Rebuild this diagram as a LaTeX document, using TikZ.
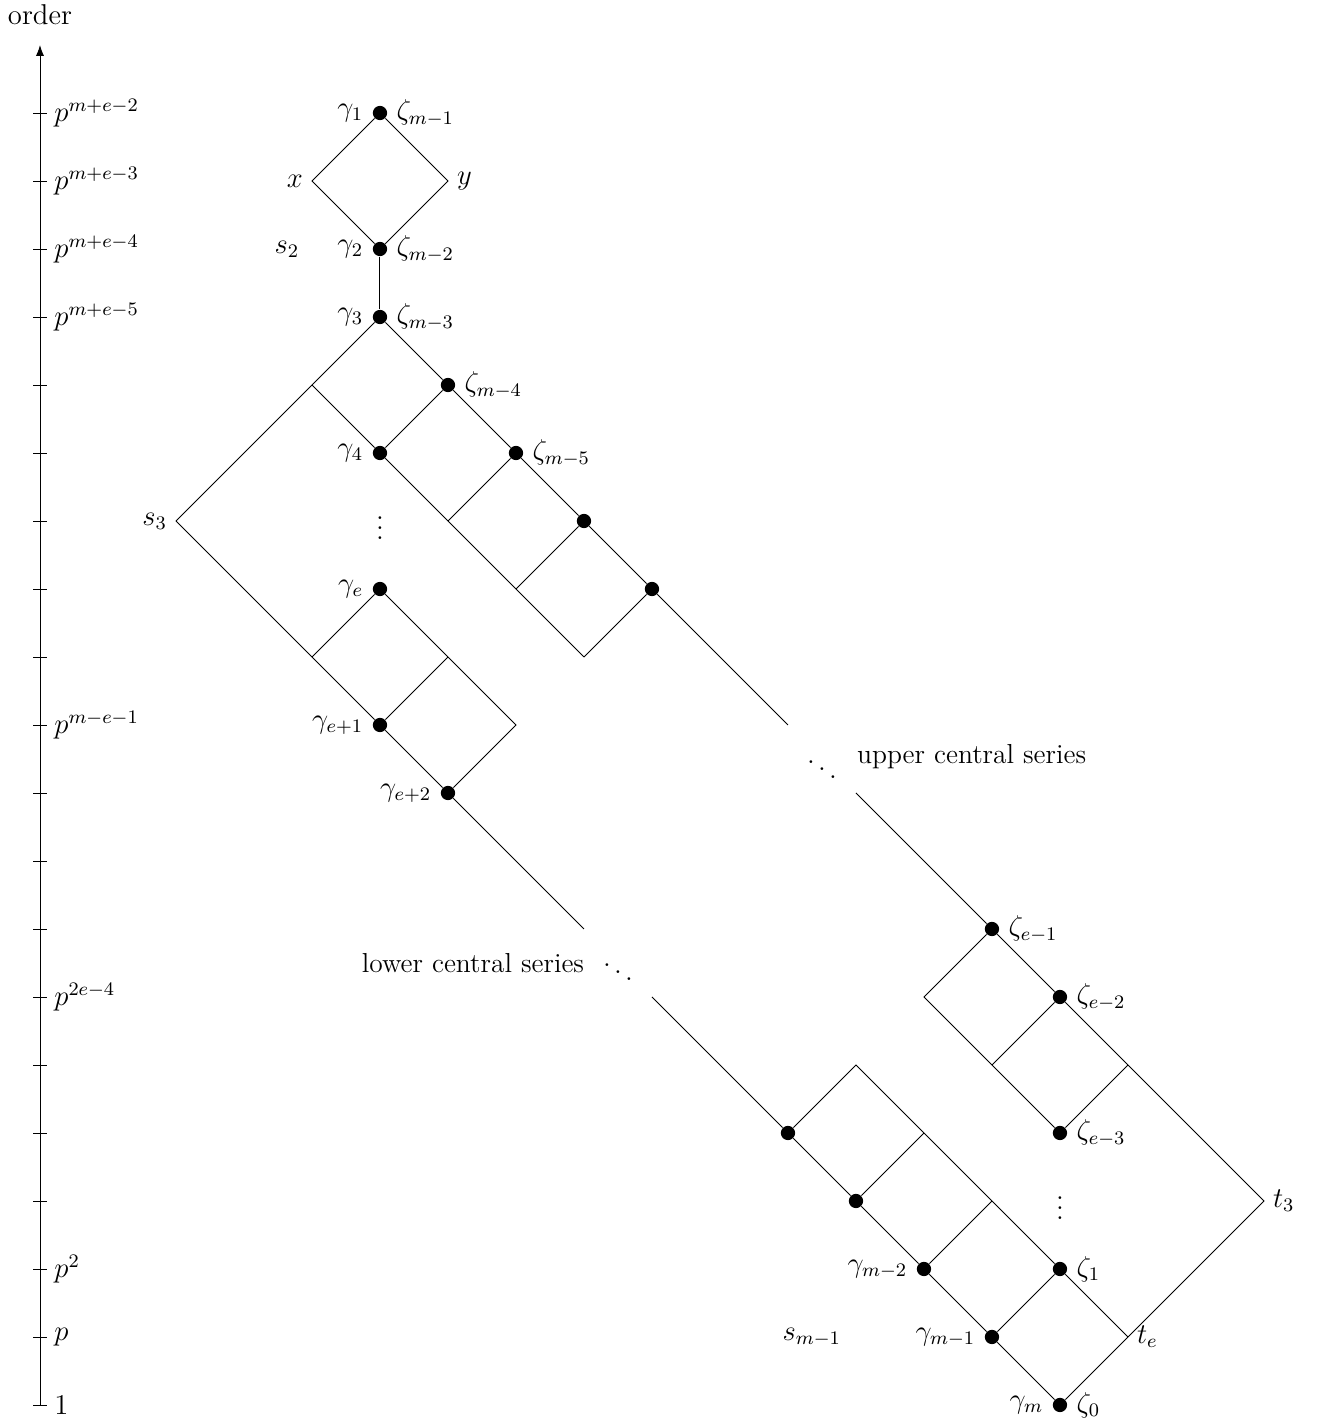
\documentclass[tikz,border=0pt,12pt]{standalone}
\usetikzlibrary{arrows.meta}
\begin{document}
\begin{tikzpicture}[x=1cm,y=1cm,
  dot/.style={circle,fill=black,inner sep=0pt,minimum size=0.21cm},
  edge/.style={line width=0.4pt},
  tick/.style={line width=0.4pt},
  series/.style={font=\fontsize{11.5}{13}\selectfont},
  every label/.style={inner sep=0.3em},
  cl/.style={label distance=0.06cm}]
\useasboundingbox (-0.588,-0.265) rectangle (18.824,20.662);
% axis
\coordinate (ax0) at (0,0);
\coordinate (axtop) at (0,20);
\draw[-{Latex[length=1.6mm,width=1.2mm]}] (ax0) -- (axtop);
\node (order) at (0,20.44) {order};
\foreach \i in {0,...,19}{
  \draw[tick] (-0.1,\i) -- (0.1,\i);
}
\node[anchor=west,inner sep=0.25em] (t19) at (0.1,19) {$p^{m+e-2}$};
\node[anchor=west,inner sep=0.25em] (t18) at (0.1,18) {$p^{m+e-3}$};
\node[anchor=west,inner sep=0.25em] (t17) at (0.1,17) {$p^{m+e-4}$};
\node[anchor=west,inner sep=0.25em] (t16) at (0.1,16) {$p^{m+e-5}$};
\node[anchor=west,inner sep=0.25em] (t10) at (0.1,10) {$p^{m-e-1}$};
\node[anchor=west,inner sep=0.25em] (t6) at (0.1,6) {$p^{2e-4}$};
\node[anchor=west,inner sep=0.25em] (t2) at (0.1,2) {$p^{2}$};
\node[anchor=west,inner sep=0.25em] (t1) at (0.1,1) {$p$};
\node[anchor=west,inner sep=0.25em] (t0) at (0.1,0) {$1$};

% upper part
\node[dot,label=left:$\gamma_1$,label=right:$\zeta_{m-1}$] (g1) at (5,19) {};
\coordinate[cl,label=left:$x$] (xx) at (4,18);
\coordinate[cl,label=right:$y$] (yy) at (6,18);
\node[dot,label=left:$\gamma_2$,label=right:$\zeta_{m-2}$] (g2) at (5,17) {};
\node (s2) at (3.63,17) {$s_2$};
\node[dot,label=left:$\gamma_3$,label=right:$\zeta_{m-3}$] (g3) at (5,16) {};
\coordinate (a1) at (4,15);
\node[dot,label=right:$\zeta_{m-4}$] (z4) at (6,15) {};
\node[dot,label=left:$\gamma_4$] (g4) at (5,14) {};
\node[dot,label=right:$\zeta_{m-5}$] (z5) at (7,14) {};
\coordinate[cl,label=left:$s_3$] (s3) at (2,13);
\coordinate (b1) at (6,13);
\node[dot] (z6) at (8,13) {};
\node (vd1) at (5,13) {$\vdots$};
\node[dot,label=left:$\gamma_e$] (ge) at (5,12) {};
\coordinate (b2) at (7,12);
\node[dot] (z7) at (9,12) {};
\coordinate (c1) at (4,11);
\coordinate (c2) at (6,11);
\coordinate (c3) at (8,11);
\node[dot,label=left:$\gamma_{e+1}$] (ge1) at (5,10) {};
\coordinate (d2) at (7,10);
\node[dot,label=left:$\gamma_{e+2}$] (ge2) at (6,9) {};
\coordinate (lowend) at (8,7);
\coordinate (lowstart) at (9,6);
\node (lowdots) at (8.5,6.47) {$\ddots$};
\node[series,anchor=east] (lowtxt) at (8.15,6.5) {lower central series};
\coordinate (upend) at (11,10);
\coordinate (upstart) at (12,9);
\node (updots) at (11.5,9.45) {$\ddots$};
\node[series,anchor=west] (uptxt) at (11.87,9.53) {upper central series};

% lower part
\node[dot,label=right:$\zeta_{e-1}$] (ze1) at (14,7) {};
\coordinate (f1) at (13,6);
\node[dot,label=right:$\zeta_{e-2}$] (ze2) at (15,6) {};
\coordinate (f2) at (14,5);
\coordinate (f3) at (16,5);
\node[dot,label=right:$\zeta_{e-3}$] (ze3) at (15,4) {};
\coordinate[cl,label=right:$t_3$] (t3) at (18,3);
\node (vd2) at (15,3) {$\vdots$};
\node[dot,label=right:$\zeta_{1}$] (zz1) at (15,2) {};
\coordinate[cl,label=right:$t_e$] (te) at (16,1);
\node[dot,label=left:$\gamma_m$,label=right:$\zeta_{0}$] (zz0) at (15,0) {};
\node[dot] (h1) at (11,4) {};
\coordinate (h2) at (12,5);
\coordinate (h3) at (13,4);
\node[dot] (h4) at (12,3) {};
\coordinate (h5) at (14,3);
\node[dot,label=left:$\gamma_{m-2}$] (gm2) at (13,2) {};
\node[dot,label=left:$\gamma_{m-1}$] (gm1) at (14,1) {};
\node (sm1) at (11.35,1) {$s_{m-1}$};

% edges
\draw[edge] (g1) -- (xx) -- (g2) -- (yy) -- (g1);
\draw[edge] (g2) -- (g3);
\draw[edge] (g3) -- (a1) -- (s3);
\draw[edge] (g3) -- (z4) -- (z5) -- (z6) -- (z7) -- (upend);
\draw[edge] (a1) -- (g4) -- (b1) -- (b2) -- (c3);
\draw[edge] (z4) -- (g4);
\draw[edge] (z5) -- (b1);
\draw[edge] (z6) -- (b2);
\draw[edge] (z7) -- (c3);
\draw[edge] (s3) -- (c1) -- (ge1) -- (ge2) -- (lowend);
\draw[edge] (ge) -- (c1);
\draw[edge] (ge) -- (c2) -- (d2) -- (ge2);
\draw[edge] (c2) -- (ge1);

\draw[edge] (upstart) -- (ze1) -- (ze2) -- (f3) -- (t3) -- (te) -- (zz0);
\draw[edge] (ze1) -- (f1) -- (f2) -- (ze3);
\draw[edge] (ze2) -- (f2);
\draw[edge] (f3) -- (ze3);

\draw[edge] (lowstart) -- (h1) -- (h4) -- (gm2) -- (gm1) -- (zz0);
\draw[edge] (h1) -- (h2) -- (h3) -- (h5) -- (zz1) -- (te);
\draw[edge] (h3) -- (h4);
\draw[edge] (h5) -- (gm2);
\draw[edge] (zz1) -- (gm1);
\end{tikzpicture}
\end{document}
